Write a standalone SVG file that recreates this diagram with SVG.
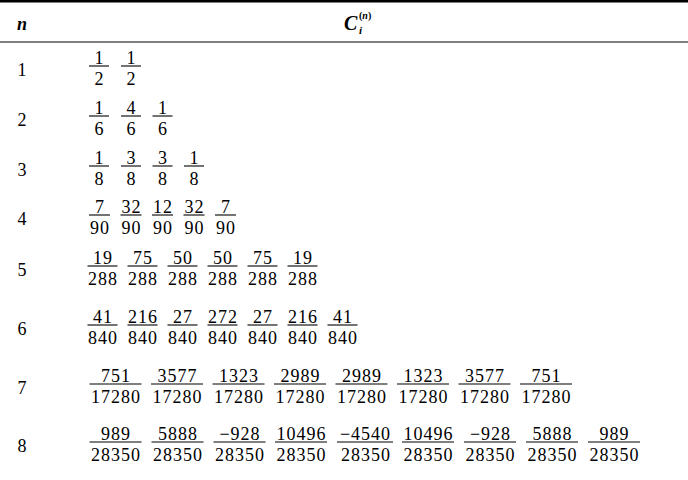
<svg xmlns="http://www.w3.org/2000/svg" width="688" height="480" viewBox="0 0 688 480">
<style>
  text { font-family: "Liberation Serif", "Times New Roman", serif; fill: #000; }
  .d { font-size: 18px; letter-spacing: 1px; text-anchor: middle; }
  .lab { font-size: 18px; text-anchor: middle; }
  .bar { stroke: #000; stroke-width: 1.1; }
  .rule { stroke: #000; }
  .hd { font-weight: bold; font-style: italic; }
</style>
<rect width="688" height="480" fill="#fff"/>
<g id="rules">
  <line class="rule" x1="0" y1="1.2" x2="688" y2="1.2" stroke-width="2.4"/>
  <line class="rule" x1="0" y1="42" x2="688" y2="42" stroke-width="1.2"/>
</g>
<g id="header">
  <text class="hd" x="22" y="30" font-size="18" text-anchor="middle">n</text>
  <text class="hd" x="344" y="30" font-size="20">C</text>
  <text x="359" y="34" font-size="11" font-style="italic" font-weight="bold">i</text>
  <text x="359" y="19" font-size="10" font-weight="bold">(<tspan font-style="italic">n</tspan>)</text>
</g>
<g id="row1">
  <text class="lab" x="22" y="76">1</text>
  <line class="bar" x1="89" y1="66" x2="109" y2="66"/><line class="bar" x1="121" y1="66" x2="141" y2="66"/>
  <text class="d" x="99.5" y="64">1</text><text class="d" x="131.5" y="64">1</text>
  <text class="d" x="99.5" y="84.5">2</text><text class="d" x="131.5" y="84.5">2</text>
</g>
<g id="row2">
  <text class="lab" x="22" y="126">2</text>
  <line class="bar" x1="89" y1="116" x2="109" y2="116"/><line class="bar" x1="121" y1="116" x2="141" y2="116"/><line class="bar" x1="152.5" y1="116" x2="172.5" y2="116"/>
  <text class="d" x="99.5" y="114">1</text><text class="d" x="131.5" y="114">4</text><text class="d" x="163" y="114">1</text>
  <text class="d" x="99.5" y="134.5">6</text><text class="d" x="131.5" y="134.5">6</text><text class="d" x="163" y="134.5">6</text>
</g>
<g id="row3">
  <text class="lab" x="22" y="176">3</text>
  <line class="bar" x1="89" y1="166" x2="109" y2="166"/><line class="bar" x1="121" y1="166" x2="141" y2="166"/><line class="bar" x1="152.5" y1="166" x2="172.5" y2="166"/><line class="bar" x1="184" y1="166" x2="204" y2="166"/>
  <text class="d" x="99.5" y="164">1</text><text class="d" x="131.5" y="164">3</text><text class="d" x="163" y="164">3</text><text class="d" x="194.5" y="164">1</text>
  <text class="d" x="99.5" y="184.5">8</text><text class="d" x="131.5" y="184.5">8</text><text class="d" x="163" y="184.5">8</text><text class="d" x="194.5" y="184.5">8</text>
</g>
<g id="row4">
  <text class="lab" x="22" y="225">4</text>
  <line class="bar" x1="89" y1="215" x2="110" y2="215"/><line class="bar" x1="120.5" y1="215" x2="141.5" y2="215"/><line class="bar" x1="152" y1="215" x2="173" y2="215"/><line class="bar" x1="183.5" y1="215" x2="204.5" y2="215"/><line class="bar" x1="215" y1="215" x2="236" y2="215"/>
  <text class="d" x="100" y="213">7</text><text class="d" x="131.5" y="213">32</text><text class="d" x="163" y="213">12</text><text class="d" x="194.5" y="213">32</text><text class="d" x="226" y="213">7</text>
  <text class="d" x="100" y="233.5">90</text><text class="d" x="131.5" y="233.5">90</text><text class="d" x="163" y="233.5">90</text><text class="d" x="194.5" y="233.5">90</text><text class="d" x="226" y="233.5">90</text>
</g>
<g id="row5">
  <text class="lab" x="22" y="276">5</text>
  <line class="bar" x1="87.5" y1="266" x2="117.5" y2="266"/><line class="bar" x1="127.5" y1="266" x2="157.5" y2="266"/><line class="bar" x1="167.5" y1="266" x2="197.5" y2="266"/><line class="bar" x1="207.5" y1="266" x2="237.5" y2="266"/><line class="bar" x1="247.5" y1="266" x2="277.5" y2="266"/><line class="bar" x1="287.5" y1="266" x2="317.5" y2="266"/>
  <text class="d" x="103" y="264">19</text><text class="d" x="143" y="264">75</text><text class="d" x="183" y="264">50</text><text class="d" x="223" y="264">50</text><text class="d" x="263" y="264">75</text><text class="d" x="303" y="264">19</text>
  <text class="d" x="103" y="284.5">288</text><text class="d" x="143" y="284.5">288</text><text class="d" x="183" y="284.5">288</text><text class="d" x="223" y="284.5">288</text><text class="d" x="263" y="284.5">288</text><text class="d" x="303" y="284.5">288</text>
</g>
<g id="row6">
  <text class="lab" x="22" y="335">6</text>
  <line class="bar" x1="87.5" y1="325" x2="117.5" y2="325"/><line class="bar" x1="127.5" y1="325" x2="157.5" y2="325"/><line class="bar" x1="167.5" y1="325" x2="197.5" y2="325"/><line class="bar" x1="207.5" y1="325" x2="237.5" y2="325"/><line class="bar" x1="247.5" y1="325" x2="277.5" y2="325"/><line class="bar" x1="287.5" y1="325" x2="317.5" y2="325"/><line class="bar" x1="327.5" y1="325" x2="357.5" y2="325"/>
  <text class="d" x="103" y="323">41</text><text class="d" x="143" y="323">216</text><text class="d" x="183" y="323">27</text><text class="d" x="223" y="323">272</text><text class="d" x="263" y="323">27</text><text class="d" x="303" y="323">216</text><text class="d" x="343" y="323">41</text>
  <text class="d" x="103" y="343.5">840</text><text class="d" x="143" y="343.5">840</text><text class="d" x="183" y="343.5">840</text><text class="d" x="223" y="343.5">840</text><text class="d" x="263" y="343.5">840</text><text class="d" x="303" y="343.5">840</text><text class="d" x="343" y="343.5">840</text>
</g>
<g id="row7">
  <text class="lab" x="22" y="394">7</text>
  <line class="bar" x1="89.5" y1="384" x2="141.5" y2="384"/><line class="bar" x1="151" y1="384" x2="203" y2="384"/><line class="bar" x1="212.5" y1="384" x2="264.5" y2="384"/><line class="bar" x1="274" y1="384" x2="326" y2="384"/><line class="bar" x1="335.5" y1="384" x2="387.5" y2="384"/><line class="bar" x1="397" y1="384" x2="449" y2="384"/><line class="bar" x1="458.5" y1="384" x2="510.5" y2="384"/><line class="bar" x1="520" y1="384" x2="572" y2="384"/>
  <text class="d" x="116" y="382">751</text><text class="d" x="177.5" y="382">3577</text><text class="d" x="239" y="382">1323</text><text class="d" x="300.5" y="382">2989</text><text class="d" x="362" y="382">2989</text><text class="d" x="423.5" y="382">1323</text><text class="d" x="485" y="382">3577</text><text class="d" x="546.5" y="382">751</text>
  <text class="d" x="116" y="402.5">17280</text><text class="d" x="177.5" y="402.5">17280</text><text class="d" x="239" y="402.5">17280</text><text class="d" x="300.5" y="402.5">17280</text><text class="d" x="362" y="402.5">17280</text><text class="d" x="423.5" y="402.5">17280</text><text class="d" x="485" y="402.5">17280</text><text class="d" x="546.5" y="402.5">17280</text>
</g>
<g id="row8">
  <text class="lab" x="22" y="452">8</text>
  <line class="bar" x1="89.5" y1="442" x2="141.5" y2="442"/><line class="bar" x1="151.5" y1="442" x2="203.5" y2="442"/><line class="bar" x1="213.5" y1="442" x2="265.5" y2="442"/><line class="bar" x1="275" y1="442" x2="327" y2="442"/><line class="bar" x1="337" y1="442" x2="393" y2="442"/><line class="bar" x1="402" y1="442" x2="454" y2="442"/><line class="bar" x1="464" y1="442" x2="516" y2="442"/><line class="bar" x1="526" y1="442" x2="578" y2="442"/><line class="bar" x1="588" y1="442" x2="640" y2="442"/>
  <text class="d" x="116" y="440">989</text><text class="d" x="178" y="440">5888</text><text class="d" x="240" y="440">−928</text><text class="d" x="301.5" y="440">10496</text><text class="d" x="365.5" y="440">−4540</text><text class="d" x="428.5" y="440">10496</text><text class="d" x="490.5" y="440">−928</text><text class="d" x="552.5" y="440">5888</text><text class="d" x="614.5" y="440">989</text>
  <text class="d" x="116" y="460.5">28350</text><text class="d" x="178" y="460.5">28350</text><text class="d" x="240" y="460.5">28350</text><text class="d" x="301.5" y="460.5">28350</text><text class="d" x="366" y="460.5">28350</text><text class="d" x="428.5" y="460.5">28350</text><text class="d" x="490.5" y="460.5">28350</text><text class="d" x="552.5" y="460.5">28350</text><text class="d" x="614.5" y="460.5">28350</text>
</g>
</svg>
